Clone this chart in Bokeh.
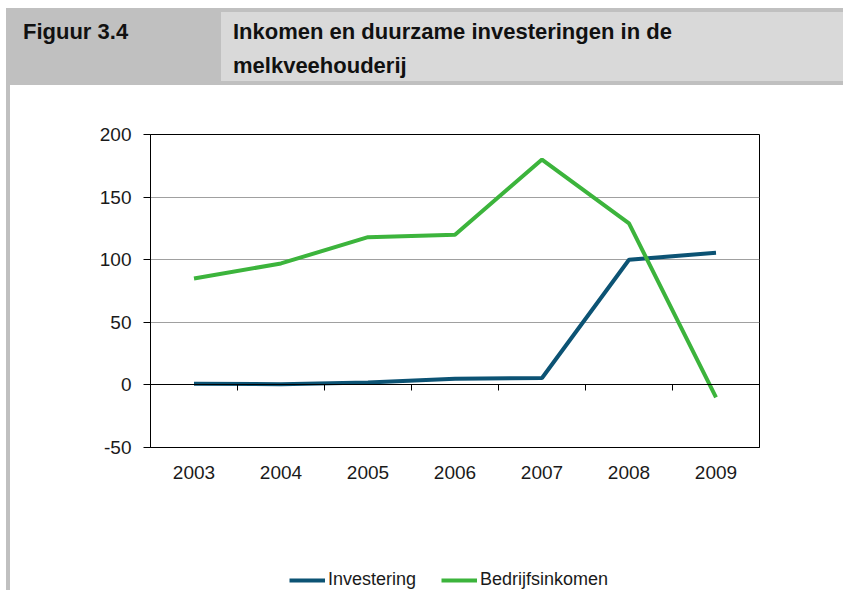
from bokeh.plotting import figure
from bokeh.models import (Range1d, FixedTicker, LinearAxis, Legend, LegendItem, Div,
                          ColumnDataSource)
from bokeh.layouts import column, row
from bokeh.embed import file_html
from bokeh.resources import INLINE

# ---- data ----
years = ["2003", "2004", "2005", "2006", "2007", "2008", "2009"]
investering = [1, 0.5, 2, 5, 5.5, 100, 105.5]
bedrijfsinkomen = [85, 97, 118, 120, 180, 129, -10]
y_ticks = [-50, 0, 50, 100, 150, 200]
grid_ticks = [50, 100, 150]
series_names = ["Investering", "Bedrijfsinkomen"]
series_colors = ["#0c5374", "#3cb43c"]
fig_label = "Figuur 3.4"
title_lines = ["Inkomen en duurzame investeringen in de", "melkveehouderij"]

FONT = "Liberation Sans"
GRAY = "#c0c0c0"
LIGHT = "#d9d9d9"

x_pos = [i + 0.5 for i in range(len(years))]
boundaries = list(range(len(years) + 1))

src = ColumnDataSource(dict(x=x_pos, inv=investering, bed=bedrijfsinkomen))

# ---- main chart ----
p = figure(width=833, height=435,
           x_range=Range1d(0, len(years)), y_range=Range1d(y_ticks[0], y_ticks[-1]),
           output_backend="svg", toolbar_location=None,
           min_border_left=140, min_border_right=84,
           min_border_top=49, min_border_bottom=73)
p.outline_line_color = "black"
p.outline_line_width = 1
p.background_fill_color = "white"
p.border_fill_color = "white"

p.xaxis.ticker = FixedTicker(ticks=x_pos)
p.xaxis.major_label_overrides = {x: y for x, y in zip(x_pos, years)}
p.xaxis.major_tick_out = 0
p.xaxis.major_tick_in = 0
p.xaxis.minor_tick_out = 0
p.xaxis.minor_tick_in = 0
p.xaxis.axis_line_color = "black"
p.xaxis.major_label_standoff = 18
p.xaxis.major_label_text_font = FONT
p.xaxis.major_label_text_font_size = "19px"
p.xaxis.major_label_text_color = "#1a1a1a"

p.yaxis.ticker = FixedTicker(ticks=y_ticks)
p.yaxis.major_label_overrides = {t: str(t) for t in y_ticks}
p.yaxis.major_tick_out = 7
p.yaxis.major_tick_in = 0
p.yaxis.minor_tick_out = 0
p.yaxis.minor_tick_in = 0
p.yaxis.axis_line_color = "black"
p.yaxis.major_tick_line_color = "black"
p.yaxis.major_label_standoff = 12
p.yaxis.major_label_text_font = FONT
p.yaxis.major_label_text_font_size = "19px"
p.yaxis.major_label_text_color = "#1a1a1a"

p.xgrid.visible = False
p.ygrid.ticker = FixedTicker(ticks=grid_ticks)
p.ygrid.grid_line_color = "#a0a0a0"
p.ygrid.grid_line_width = 1

zero_axis = LinearAxis(fixed_location=0, ticker=FixedTicker(ticks=boundaries),
                       major_tick_in=0, major_tick_out=6,
                       minor_tick_in=0, minor_tick_out=0,
                       axis_line_color="black", major_tick_line_color="black",
                       major_label_overrides={b: "" for b in boundaries},
                       major_label_text_font_size="0px")
p.add_layout(zero_axis, "below")

p.line("x", "inv", source=src, line_width=4, line_color=series_colors[0])
p.line("x", "bed", source=src, line_width=4, line_color=series_colors[1])

# ---- legend strip ----
p2 = figure(width=833, height=70, x_range=Range1d(0, 1), y_range=Range1d(0, 1),
            x_axis_type=None, y_axis_type=None, output_backend="svg",
            toolbar_location=None, min_border=0)
p2.outline_line_color = None
p2.background_fill_color = "white"
p2.border_fill_color = "white"
l1 = p2.line("x", "inv", source=src, line_width=4, line_color=series_colors[0], visible=False)
l2 = p2.line("x", "bed", source=src, line_width=4, line_color=series_colors[1], visible=False)
legend = Legend(items=[LegendItem(label=series_names[0], renderers=[l1]),
                       LegendItem(label=series_names[1], renderers=[l2])],
                location=(139, 0), orientation="horizontal",
                glyph_width=36, glyph_height=20, label_height=20,
                label_standoff=3, spacing=25,
                padding=0, margin=0, border_line_alpha=0, background_fill_alpha=0,
                inactive_fill_alpha=0,
                label_text_font=FONT, label_text_font_size="18px",
                label_text_color="#1a1a1a")
p2.add_layout(legend)

# ---- header ----
header_html = (
    f'<div style="position:relative;width:843px;height:85px;background:white;'
    f"font-family:'{FONT}',Arial,sans-serif;font-weight:bold;font-size:22px;color:#111;\">"
    f'<div style="position:absolute;left:6px;top:8px;width:837px;height:77px;background:{GRAY};"></div>'
    f'<div style="position:absolute;left:221px;top:12px;width:622px;height:69px;background:{LIGHT};"></div>'
    f'<div style="position:absolute;left:23px;top:15px;line-height:34px;white-space:nowrap;">{fig_label}</div>'
    f'<div style="position:absolute;left:233px;top:15px;line-height:34px;white-space:nowrap;">'
    f'{title_lines[0]}<br>{title_lines[1]}</div></div>'
)
header = Div(text=header_html, width=843, height=85, margin=0)
spacer = Div(text="", width=6, height=505, margin=0)
bar = Div(text="", width=4, height=505, margin=0, styles={"background-color": GRAY})

layout = column(header, row(spacer, bar, column(p, p2, spacing=0), spacing=0), spacing=0)

open("out.html", "w").write(file_html(layout, INLINE))
